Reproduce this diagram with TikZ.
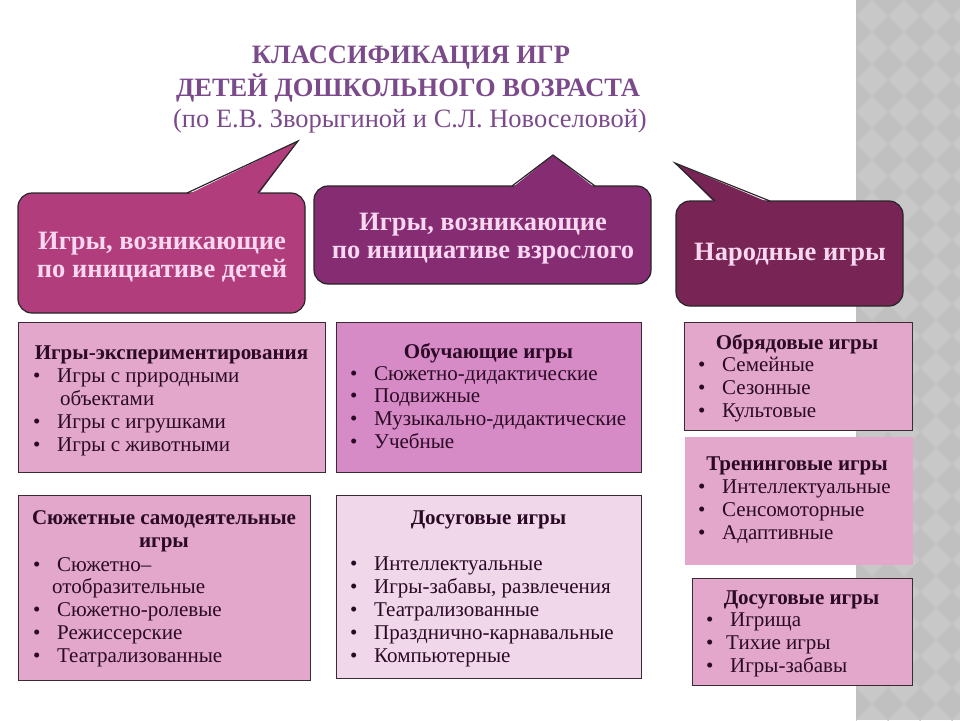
\documentclass[tikz,border=0pt]{standalone}
\usepackage{fontspec}
\setmainfont{Liberation Serif}
\definecolor{ttlcol}{HTML}{7B4A8B}
\definecolor{bubL}{HTML}{B13D7D}
\definecolor{bubM}{HTML}{862C73}
\definecolor{bubR}{HTML}{782454}
\definecolor{bubtext}{HTML}{F8D8F0}
\definecolor{pinkbox}{HTML}{E2A7CB}
\definecolor{orchid}{HTML}{D68BC6}
\definecolor{lilac}{HTML}{F0D7EA}
\definecolor{boxtext}{HTML}{2B0A25}
\definecolor{boxline}{HTML}{3A2A35}
\definecolor{backgray}{HTML}{C8C8C8}
\definecolor{backdiam}{HTML}{C0C0C0}
\tikzstyle{title}=[text=ttlcol,font=\fontsize{26.5}{32}\selectfont,inner sep=0pt,anchor=base]
\tikzstyle{bubble}=[rectangle,rounded corners=14pt,draw=black!85,line width=1.2pt]
\tikzstyle{bubtxt}=[text=bubtext,font=\bfseries\fontsize{26.5}{28}\selectfont,align=center,inner sep=0pt]
\tikzstyle{tail}=[draw=black!85,line width=1.2pt]
\tikzstyle{panel}=[rectangle,draw=boxline,line width=1.2pt,anchor=north west,inner sep=0pt]
\tikzstyle{head}=[text=boxtext,font=\bfseries\fontsize{21}{23}\selectfont,align=center,inner sep=0pt,anchor=north]
\tikzstyle{items}=[text=boxtext,font=\fontsize{21}{22.8}\selectfont,align=left,inner sep=0pt,anchor=north west]
\newcommand{\itm}[1]{\makebox[24pt][l]{\textbullet}#1}

\begin{document}
\begin{tikzpicture}[x=1pt,y=-1pt]
\useasboundingbox (0,0) rectangle (960,720);
% grey backdrop on the right
\fill[backgray] (856,0) rectangle (960,720);
\begin{scope}
\clip (856,0) rectangle (960,720);
\foreach \i in {0,...,4}
  \foreach \j in {0,...,23}
    \fill[backdiam] (856+32*\i,32*\j-16) -- ++(16,16) -- ++(-16,16) -- ++(-16,-16) -- cycle;
\end{scope}

% title
\node[title] at (411,63) (ttlA) {\textbf{КЛАССИФИКАЦИЯ ИГР}};
\node[title] at (408,96) (ttlB) {\textbf{ДЕТЕЙ ДОШКОЛЬНОГО ВОЗРАСТА}};
\node[title] at (410,127) (ttlC) {(по Е.В. Зворыгиной и С.Л. Новоселовой)};

% speech bubbles
\coordinate (tipL) at (298,141);
\coordinate (tipM) at (553,155);
\coordinate (tipR) at (675,163);
\node[bubble,fill=bubL,minimum width=287,minimum height=120] at (161.5,253) (kids) {};
\fill[bubL] (187,195) -- (tipL) -- (258,195) -- cycle;
\draw[tail] (187,193) -- (tipL) -- (258,193);
\node[bubtxt] at (162,257) (kidsTxt) {Игры, возникающие\\по инициативе детей};
\node[bubble,fill=bubM,minimum width=337,minimum height=98] at (482.5,235) (adult) {};
\fill[bubM] (512,188) -- (tipM) -- (595,188) -- cycle;
\draw[tail] (512,186) -- (tipM) -- (595,186);
\node[bubtxt] at (483,238.5) (adultTxt) {Игры, возникающие\\по инициативе взрослого};
\node[bubble,fill=bubR,minimum width=227,minimum height=105] at (789.5,253.5) (folk) {};
\fill[bubR] (715,203) -- (tipR) -- (770,203) -- cycle;
\draw[tail] (715,201) -- (tipR) -- (770,201);
\node[bubtxt] at (790,255) (folkTxt) {Народные игры};

% boxes, first row
\node[panel,fill=pinkbox,minimum width=307,minimum height=150] at (18,322) (expBox) {};
\node[head] at (171.5,346) (expHead) {Игры-экспериментирования};
\node[items] at (33,369) (expList) {\itm{Игры с природными}\\\hspace*{27pt}объектами\\\itm{Игры с игрушками}\\\itm{Игры с животными}};

\node[panel,fill=orchid,minimum width=305,minimum height=150] at (336,322) (eduBox) {};
\node[head] at (488.5,343) (eduHead) {Обучающие игры};
\node[items] at (350,366) (eduList) {\itm{Сюжетно-дидактические}\\\itm{Подвижные}\\\itm{Музыкально-дидактические}\\\itm{Учебные}};

\node[panel,fill=pinkbox,minimum width=228,minimum height=108] at (684,322) (ritBox) {};
\node[head] at (797,334) (ritHead) {Обрядовые игры};
\node[items] at (698,357) (ritList) {\itm{Семейные}\\\itm{Сезонные}\\\itm{Культовые}};

\node[panel,draw=none,fill=pinkbox,minimum width=228,minimum height=128] at (684,436) (trnBox) {};
\node[head] at (797,457) (trnHead) {Тренинговые игры};
\node[items] at (698,480) (trnList) {\itm{Интеллектуальные}\\\itm{Сенсомоторные}\\\itm{Адаптивные}};

% boxes, second row
\node[panel,fill=pinkbox,minimum width=292,minimum height=185] at (18,495) (plotBox) {};
\node[head] at (164,510) (plotHead) {Сюжетные самодеятельные\\игры};
\node[items] at (33,557) (plotList) {\itm{Сюжетно–}\\\hspace*{19pt}отобразительные\\\itm{Сюжетно-ролевые}\\\itm{Режиссерские}\\\itm{Театрализованные}};

\node[panel,fill=lilac,minimum width=305,minimum height=183] at (336,495) (leisBox) {};
\node[head] at (488.5,511) (leisHead) {Досуговые игры};
\node[items] at (350,557) (leisList) {\itm{Интеллектуальные}\\\itm{Игры-забавы, развлечения}\\\itm{Театрализованные}\\\itm{Празднично-карнавальные}\\\itm{Компьютерные}};

\node[panel,fill=pinkbox,minimum width=220,minimum height=107] at (692,578) (funBox) {};
\node[head] at (801.5,591) (funHead) {Досуговые игры};
\node[items] at (706,613) (funList) {\itm{Игрища}\\\makebox[20pt][l]{\textbullet}Тихие игры\\\itm{Игры-забавы}};
\end{tikzpicture}
\end{document}
